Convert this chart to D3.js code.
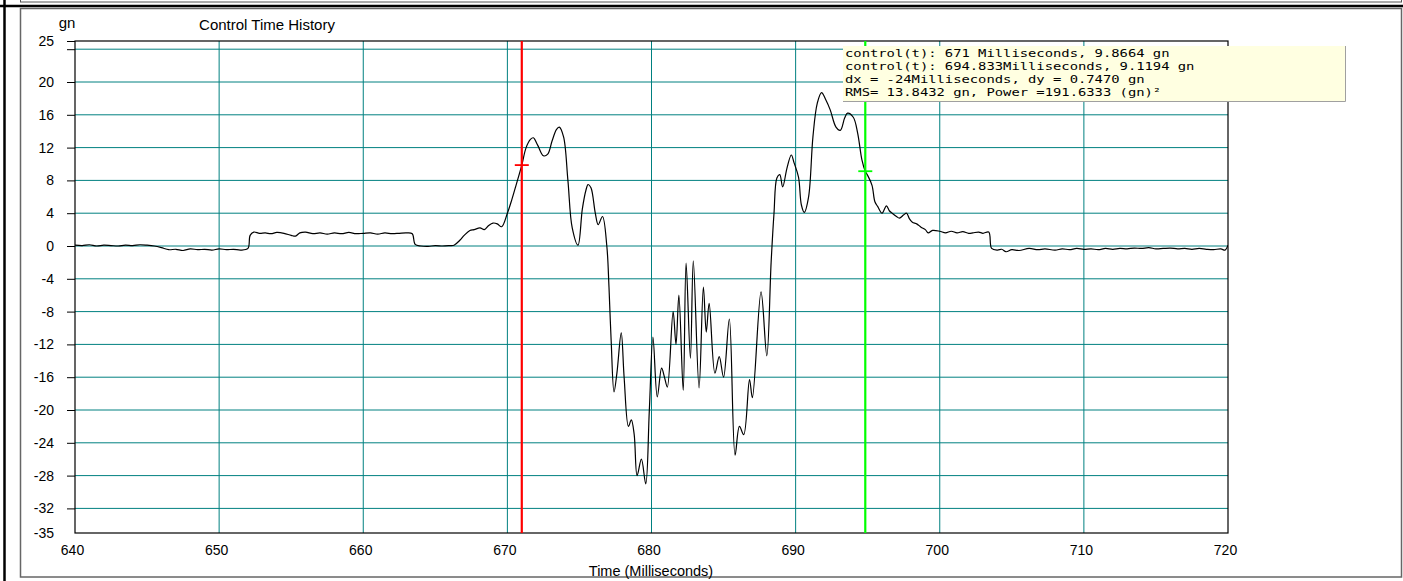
<!DOCTYPE html>
<html>
<head>
<meta charset="utf-8">
<script src="https://cdn.jsdelivr.net/npm/d3@7"></script>
<style>
  body { margin: 0; background: #fff; }
  svg { display: block; font-family: "Liberation Sans", Arial, sans-serif; }
</style>
</head>
<body>
<svg id="chart"></svg>
<script>
"use strict";

// samples (ms, gn)
const timeMs = [
  640, 640.5, 641, 641.5, 642, 642.5, 643, 643.5, 644, 644.5, 645, 645.5,
  646, 646.5, 647, 647.5, 648, 648.5, 649, 649.5, 650, 650.5, 651, 651.5, 652,
  652.15, 652.4, 652.8, 653.2, 653.6, 654, 654.5, 655, 655.3, 655.6, 656, 656.5,
  657, 657.5, 658, 658.5, 659, 659.5, 660, 660.5, 661, 661.5, 662, 662.5, 663, 663.4,
  663.6, 664, 664.5, 665, 665.5, 666, 666.3, 666.7, 667, 667.4, 667.7, 668.1,
  668.4, 668.7, 669, 669.3, 669.6, 670, 670.3, 670.6, 671, 671.3, 671.6, 671.8,
  672.1, 672.5, 672.8, 673.1, 673.4, 673.6, 673.9, 674.2, 674.5, 674.9, 675.2,
  675.45, 675.6, 675.8, 676.1, 676.3, 676.6, 676.9, 677.05, 677.2, 677.4, 677.6,
  677.9, 678.1, 678.4, 678.6, 678.8, 679.0, 679.3, 679.6, 679.85, 680.1, 680.4,
  680.7, 680.9, 681.1, 681.5, 681.7, 681.9, 682.2, 682.4, 682.7, 682.9, 683.3,
  683.6, 683.8, 684.0, 684.4, 684.7, 685.0, 685.4, 685.8, 686.1, 686.4, 686.8,
  687.0, 687.6, 688.0, 688.3, 688.5, 688.7, 688.9, 689.1, 689.4, 689.7, 689.9,
  690.2, 690.4, 690.6, 690.9, 691.2, 691.5, 691.8, 692.1, 692.4, 692.8, 693.1,
  693.4, 693.6, 694.0, 694.3, 694.6, 694.83, 695.0, 695.3, 695.5, 695.7, 696.0,
  696.3, 696.5, 696.7, 697.0, 697.2, 697.5, 697.7, 697.9, 698.1, 698.4, 698.7,
  699.0, 699.2, 699.5, 700.0, 700.4, 700.8, 701.2, 701.6, 702.0, 702.3, 702.7,
  703.0, 703.4, 703.6, 704.0, 704.3, 704.6, 705.0, 705.5, 706.2, 706.8, 707.3,
  708, 708.5, 709, 709.5, 710, 710.5, 711, 711.5, 712, 712.5, 713, 713.5, 714,
  714.5, 715, 715.5, 716, 716.5, 717, 717.5, 718, 718.5, 719, 719.5, 719.8, 720
];
const signalGn = [
  0.1, 0.05, 0.15, 0.0, 0.1, 0.05, 0.0, 0.1, 0.05, 0.15, 0.1, 0.0,
  -0.2, -0.45, -0.4, -0.55, -0.35, -0.45, -0.4, -0.5, -0.35, -0.45, -0.4, -0.5, -0.3,
  1.3, 1.7, 1.55, 1.6, 1.5, 1.65, 1.55, 1.3, 1.2, 1.6, 1.7, 1.5,
  1.6, 1.45, 1.6, 1.5, 1.65, 1.5, 1.55, 1.6, 1.45, 1.6, 1.5, 1.55, 1.6, 1.5,
  0.2, 0.0, -0.05, 0.05, 0.0, 0.05, 0.1, 0.7, 1.3, 1.9, 2.0, 2.2,
  2.0, 2.5, 2.8, 2.7, 2.35, 4.0, 5.6, 7.4, 9.87, 12.0, 13.0, 13.2,
  12.3, 11.0, 11.2, 12.8, 14.2, 14.5, 13.3, 8.0, 2.2, 0.1, 4.5,
  6.8, 7.5, 7.1, 4.0, 2.6, 3.6, 0.0, -5.0, -11.5, -17.8, -15.5,
  -10.6, -16.0, -22.0, -21.2, -23.0, -28.0, -26.0, -29.0, -20.0, -11.1, -18.4,
  -14.9, -16.0, -17.2, -8.0, -12.0, -6.0, -17.6, -2.1, -13.7, -1.8, -17.3,
  -5.0, -10.5, -7.0, -15.5, -13.5, -16.0, -8.9, -25.5, -22.0, -23.0, -16.3,
  -18.5, -5.6, -13.4, -2.0, 4.0, 8.3, 8.7, 7.2, 9.5, 11.1, 10.1,
  8.4, 5.0, 4.1, 6.0, 13.3, 17.4, 18.7, 17.8, 16.6, 14.5, 14.1,
  15.6, 16.2, 15.7, 13.8, 10.5, 9.12, 8.6, 7.4, 5.4, 4.8, 4.0,
  4.9, 4.3, 4.0, 3.6, 3.4, 3.8, 4.0, 3.3, 2.9, 2.7, 2.3,
  2.0, 1.6, 1.9, 1.8, 1.6, 1.8, 1.6, 1.75, 1.55, 1.6, 1.7,
  1.55, 1.7, -0.3, -0.5, -0.4, -0.7, -0.45, -0.55, -0.3, -0.45, -0.35,
  -0.5, -0.35, -0.45, -0.3, -0.4, -0.35, -0.45, -0.3, -0.4, -0.3, -0.35, -0.25, -0.3,
  -0.2, -0.35, -0.3, -0.25, -0.35, -0.3, -0.4, -0.3, -0.4, -0.45, -0.35, -0.5, 0.1
];

const xTicks = [640, 650, 660, 670, 680, 690, 700, 710, 720];
const yGrid = [24, 20, 16, 12, 8, 4, 0, -4, -8, -12, -16, -20, -24, -28, -32];
const yTicks = [25, 24, 20, 16, 12, 8, 4, 0, -4, -8, -12, -16, -20, -24, -28, -32, -35];

const cursorTimes = [671, 694.833];
const cursorValues = [9.8664, 9.1194];
const cursorColors = ["#ff0000", "#00ff00"];

const readout = [
  "control(t): 671 Milliseconds, 9.8664 gn",
  "control(t): 694.833Milliseconds, 9.1194 gn",
  "dx = -24Milliseconds, dy = 0.7470 gn",
  "RMS= 13.8432 gn, Power =191.6333 (gn)\u00b2"
];

const width = 1403;
const height = 581;
const plot = { left: 75, right: 1228, top: 41, bottom: 533 };

const svg = d3.select("#chart").attr("width", width).attr("height", height);

// outer frame
svg.append("rect").attr("x", 20.5).attr("y", -2).attr("width", 1381).attr("height", 4)
  .attr("fill", "none").attr("stroke", "#555");
svg.append("line").attr("x1", 0).attr("x2", width).attr("y1", 6).attr("y2", 6)
  .attr("stroke", "#000").attr("stroke-width", 2.5);
svg.append("line").attr("x1", 4.5).attr("x2", 4.5).attr("y1", 0).attr("y2", height)
  .attr("stroke", "#000").attr("stroke-width", 2.5);
svg.append("rect").attr("x", 20.5).attr("y", 8.5).attr("width", 1381).attr("height", 568.5)
  .attr("fill", "none").attr("stroke", "#666").attr("stroke-width", 1.5);

const x = d3.scaleLinear().domain([640, 720]).range([plot.left, plot.right]);
const y = d3.scaleLinear().domain([-35, 25]).range([plot.bottom, plot.top]);

// grid
svg.append("g").selectAll("line").data(yGrid).join("line")
  .attr("x1", plot.left).attr("x2", plot.right)
  .attr("y1", d => y(d)).attr("y2", d => y(d))
  .attr("stroke", "#008080").attr("stroke-width", 1);
svg.append("g").selectAll("line").data(xTicks.slice(1, -1)).join("line")
  .attr("x1", d => x(d)).attr("x2", d => x(d))
  .attr("y1", plot.top).attr("y2", plot.bottom)
  .attr("stroke", "#008080").attr("stroke-width", 1);

// axes
const yAxis = d3.axisLeft(y).tickValues(yTicks).tickSize(8).tickPadding(13)
  .tickFormat(d => (d === 24 ? "" : d));
const yg = svg.append("g").attr("transform", `translate(${plot.left},0)`).call(yAxis);
yg.select(".domain").remove();
yg.selectAll(".tick line").attr("stroke", "#000").attr("opacity", d => (d === -35 ? 0 : 1));
yg.selectAll("text").attr("font-size", 14).attr("fill", "#000")
  .attr("font-family", "Liberation Sans, Arial, sans-serif");

const xAxis = d3.axisBottom(x).tickValues(xTicks).tickSize(0).tickPadding(12);
const xg = svg.append("g").attr("transform", `translate(0,${plot.bottom})`).call(xAxis);
xg.select(".domain").remove();
xg.selectAll("text").attr("font-size", 14).attr("fill", "#000").attr("dx", -3)
  .attr("font-family", "Liberation Sans, Arial, sans-serif");

// plot frame
svg.append("rect")
  .attr("x", plot.left).attr("y", plot.top)
  .attr("width", plot.right - plot.left).attr("height", plot.bottom - plot.top)
  .attr("fill", "none").attr("stroke", "#000").attr("stroke-width", 1.2);

// trace
svg.append("clipPath").attr("id", "clip").append("rect")
  .attr("x", plot.left).attr("y", plot.top)
  .attr("width", plot.right - plot.left).attr("height", plot.bottom - plot.top);

const line = d3.line()
  .x((d, i) => x(timeMs[i]))
  .y(d => y(d))
  .curve(d3.curveCatmullRom.alpha(0.5));

svg.append("path")
  .datum(signalGn)
  .attr("clip-path", "url(#clip)")
  .attr("d", line)
  .attr("fill", "none")
  .attr("stroke", "#000")
  .attr("stroke-width", 1.2);

// cursors
cursorTimes.forEach((t, i) => {
  svg.append("line")
    .attr("x1", x(t)).attr("x2", x(t)).attr("y1", plot.top).attr("y2", plot.bottom)
    .attr("stroke", cursorColors[i]).attr("stroke-width", 2.2);
  svg.append("line")
    .attr("x1", x(t) - 7).attr("x2", x(t) + 7)
    .attr("y1", y(cursorValues[i])).attr("y2", y(cursorValues[i]))
    .attr("stroke", cursorColors[i]).attr("stroke-width", 1.8);
});

// readout box, glyphs stretched wide like the original raster font
const box = svg.append("g").attr("transform", "translate(843,46)");
box.append("rect").attr("width", 502).attr("height", 55).attr("fill", "#ffffe1");
box.append("path").attr("d", "M502.5,0V55.5H0")
  .attr("fill", "none").attr("stroke", "#a0a0a0").attr("stroke-width", 1);
box.selectAll("text").data(readout).join("text")
  .attr("transform", (d, i) => `translate(2,${11 + i * 13}) scale(1.27,1)`)
  .attr("font-family", "DejaVu Sans Mono, monospace")
  .attr("font-size", 10.9)
  .attr("fill", "#000")
  .style("white-space", "pre")
  .text(d => d);

// labels
svg.append("text").attr("x", 67).attr("y", 28).attr("text-anchor", "middle")
  .attr("font-size", 15).text("gn");
svg.append("text").attr("x", 267).attr("y", 29.5).attr("text-anchor", "middle")
  .attr("font-size", 15).text("Control Time History");
svg.append("text").attr("x", 651).attr("y", 575.5).attr("text-anchor", "middle")
  .attr("font-size", 14.5).text("Time (Milliseconds)");
</script>
</body>
</html>
